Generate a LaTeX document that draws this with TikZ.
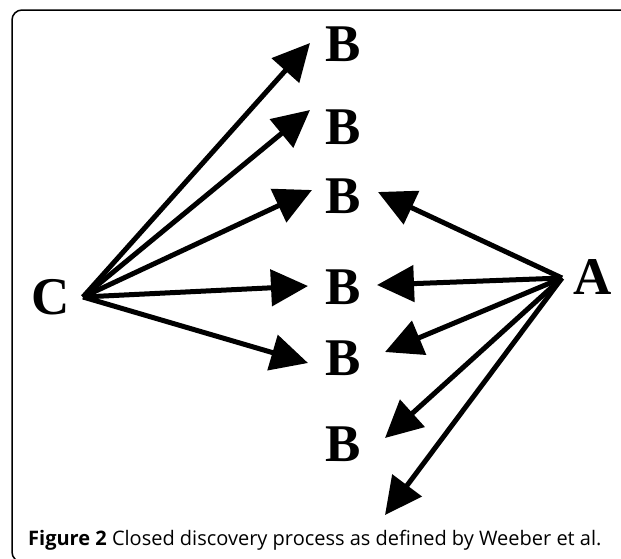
\documentclass[tikz,border=0pt]{standalone}
\usepackage{fontspec}
\setmainfont{Liberation Serif}
\newfontfamily\capfont{Open Sans}
\usetikzlibrary{arrows.meta,calc}
\begin{document}
\begin{tikzpicture}[x=1pt,y=-1pt,
  letter/.style={inner sep=0pt, font=\fontsize{53}{60}\selectfont\bfseries},
  arr/.style={line width=5pt, -{Triangle[length=37pt,width=36pt]}}]
\clip (0,0) rectangle (621,558);
\draw[line width=1.5pt, rounded corners=10pt] (12,10) rectangle (650,562);
% letters
\node[letter] (C) at (51,297) {C};
\node[letter] (A) at (593,277) {A};
\node[letter] (B1) at (343.5,44) {B};
\node[letter] (B2) at (343.5,127) {B};
\node[letter] (B3) at (343.5,196) {B};
\node[letter] (B4) at (343.5,287) {B};
\node[letter] (B5) at (343.5,358) {B};
\node[letter] (B6) at (343.5,444) {B};
% arrow origins and free end
\coordinate (Cs) at ($(C)+(32,0)$);
\coordinate (As) at ($(A)+(-31,1)$);
\coordinate (Afree) at ($(B6)+(41.5,71)$);
% C arrows
\draw[arr] (Cs) -- ($(B1)+(-33.5,-1)$);
\draw[arr] (Cs) -- ($(B2)+(-33.5,-17)$);
\draw[arr] (Cs) -- ($(B3)+(-31.5,-6)$);
\draw[arr] (Cs) -- ($(B4)+(-35.5,-1)$);
\draw[arr] (Cs) -- ($(B5)+(-35.5,5)$);
% A arrows
\draw[arr] (As) -- ($(B3)+(34.5,-4)$);
\draw[arr] (As) -- ($(B4)+(33.5,-2)$);
\draw[arr] (As) -- ($(B5)+(41.5,-6)$);
\draw[arr] (As) -- ($(B6)+(41.5,-6)$);
\draw[arr] (As) -- (Afree);
% caption
\node[anchor=base west, inner sep=0pt, font=\capfont\fontsize{20}{24}\selectfont] (cap) at (28,545)
  {\textbf{Figure 2} Closed discovery process as defined by Weeber et al.};
\end{tikzpicture}
\end{document}
